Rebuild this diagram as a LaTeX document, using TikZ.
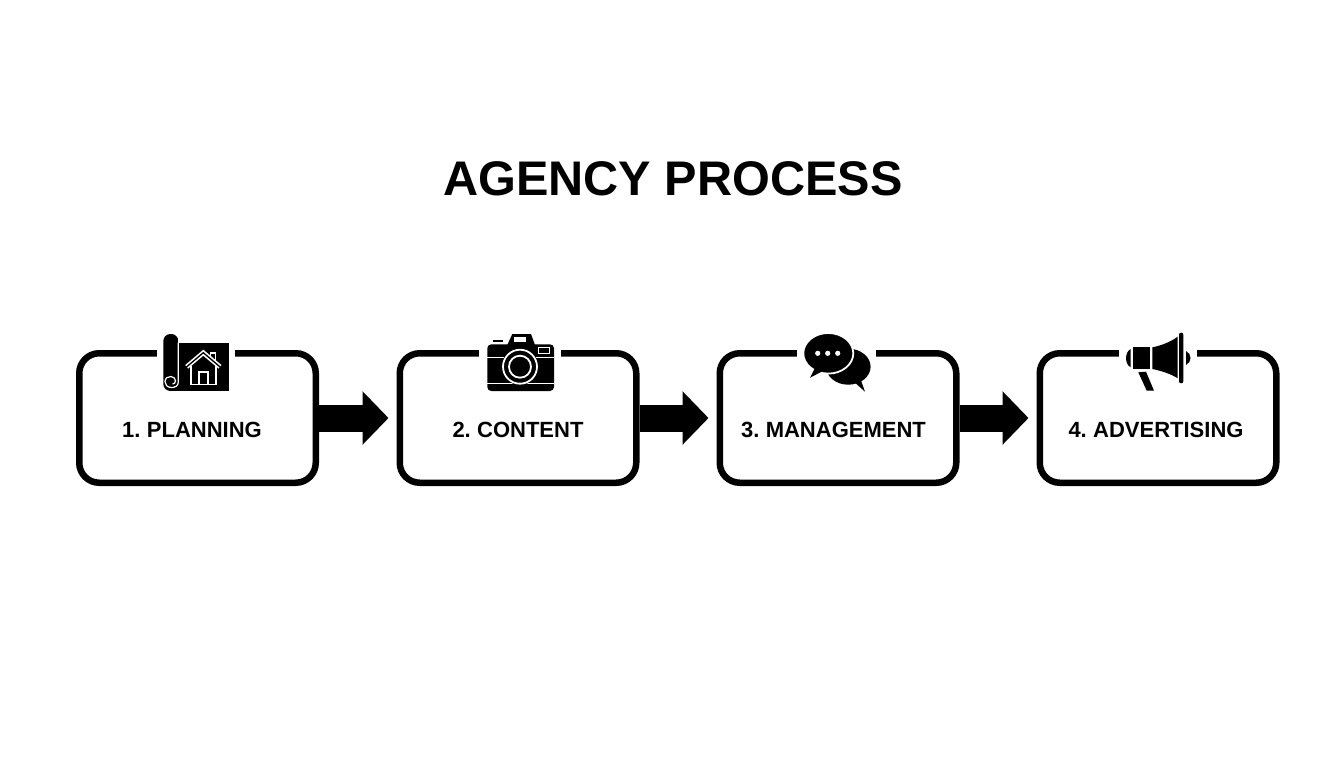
\documentclass[tikz,border=0pt]{standalone}
\usepackage{fontspec}
\setmainfont{Liberation Sans}
\newfontfamily\labelfont[WordSpace=0.7]{Liberation Sans}
\usetikzlibrary{arrows.meta}
\tikzset{
  procbox/.style={draw=black,line width=6.5pt,rounded corners=20pt,minimum width=236.5pt,minimum height=129.5pt,inner sep=0pt,fill=white},
  steplabel/.style={font=\labelfont\bfseries\fontsize{22}{24}\selectfont,text=black,inner sep=0pt,anchor=center},
  flow/.style={line width=27pt,-{Triangle[length=26pt,width=52pt]},shorten >=8pt,black},
  gapcover/.style={fill=white,draw=none},
  wl/.style={draw=white,line width=1.8pt},
  ink/.style={fill=black,draw=none}
}
\begin{document}
\begin{tikzpicture}[x=1pt,y=-1pt]
\useasboundingbox (0,0) rectangle (1344,768);
\fill[white] (0,0) rectangle (1344,768);
\node[font=\bfseries\fontsize{48.6}{56}\selectfont,inner sep=0pt] (title) at (673,179) {AGENCY PROCESS};
\node[procbox] (b1) at (197.5,418) {};
\node[procbox] (b2) at (518,418) {};
\node[procbox] (b3) at (838,418) {};
\node[procbox] (b4) at (1158,418) {};
\draw[flow] (b1.east) -- (b2.west);
\draw[flow] (b2.east) -- (b3.west);
\draw[flow] (b3.east) -- (b4.west);
\node[steplabel] (l1) at (192,430) {1. PLANNING};
\node[steplabel] (l2) at (518,430) {2. CONTENT};
\node[steplabel] (l3) at (833.5,430) {3. MANAGEMENT};
\node[steplabel] (l4) at (1156,430) {4. ADVERTISING};
% gaps in the top borders
\fill[gapcover] (156.7,345) rectangle (235,360);
\fill[gapcover] (479.3,345) rectangle (560.7,360);
\fill[gapcover] (796.7,345) rectangle (876,360);
\fill[gapcover] (1119.3,345) rectangle (1197.3,360);
% plan icon
\fill[ink] (172,342.7) rectangle (229,391);
\fill[ink,rounded corners=7pt] (163.3,391) rectangle (178.3,334);
\fill[white] (178.3,334) rectangle (180,342.7);
\draw[wl,line width=1.2pt] (178.3,342.7) -- (178.3,382) .. controls (178.3,386) and (175,387.5) .. (171.5,387.5) .. controls (167,387.5) and (165,384.5) .. (165,381.5) .. controls (165,378) and (168,376.5) .. (171,376.5) .. controls (174,376.5) and (175.5,379) .. (175.5,381) .. controls (175.5,383) and (174,384) .. (172.5,384);
\draw[white,line width=4.6pt,miter limit=8] (186.7,366.8) -- (203.3,352.7) -- (220,366.8);
\draw[black,line width=1.3pt,miter limit=8] (186,367.4) -- (203.3,352.7) -- (220.6,367.4);
\draw[wl] (210.5,356) -- (210.5,352.8) -- (215.5,352.8) -- (215.5,361);
\draw[wl] (191,366) -- (191,384.5) -- (216,384.5) -- (216,366);
\draw[wl] (199,384.5) -- (199,372) -- (208,372) -- (208,384.5);
% camera icon
\fill[ink,rounded corners=4pt] (487.3,344.3) rectangle (554,391);
\fill[ink] (507.3,345) -- (512.3,334) -- (531,334) -- (535,345) -- cycle;
\fill[white] (514.3,336.7) rectangle (526,341.7);
\fill[ink] (492.7,339.7) rectangle (502.7,342.3);
\draw[white,line width=1.2pt] (538.5,347.8) rectangle (549.3,353.7);
\draw[wl,line width=1.2pt] (487.3,357.3) -- (554,357.3);
\draw[wl,line width=1.2pt] (487.3,383.5) -- (554,383.5);
\fill[ink] (520,366.7) circle[radius=18.4];
\draw[wl] (520,366.7) circle[radius=17];
\draw[wl] (520,366.7) circle[radius=11];
% chat icon
\fill[ink] (848.3,366.7) ellipse[x radius=22.3,y radius=18];
\fill[ink] (852,380) -- (865,391.7) -- (859,375) -- cycle;
\filldraw[fill=black,draw=white,line width=1.8pt] (828.3,353.3) ellipse[x radius=25,y radius=20.3];
\fill[ink] (815,368) -- (810,377.7) -- (825,370) -- cycle;
\fill[white] (817.7,353.3) circle[radius=2.6];
\fill[white] (827.7,353.3) circle[radius=2.6];
\fill[white] (837.7,353.3) circle[radius=2.6];
% megaphone icon
\fill[ink] (1130.7,349) .. controls (1124.5,352) and (1124.5,364.5) .. (1130.7,367.3) -- cycle;
\fill[ink] (1133.3,347.3) rectangle (1150,369);
\fill[ink] (1152.3,347.3) .. controls (1162,345.5) and (1171,341.5) .. (1177.7,336.7) -- (1177.7,378.3) .. controls (1171,374) and (1162,371) .. (1152.3,369) -- cycle;
\fill[ink,rounded corners=2pt] (1179,332.7) rectangle (1183.3,383.3);
\fill[ink] (1186,351) .. controls (1192,354) and (1192,362) .. (1186,365) -- cycle;
\fill[ink] (1138.3,372.3) -- (1146,371.7) -- (1154,390.7) -- (1146.7,390.7) -- cycle;
\end{tikzpicture}
\end{document}
